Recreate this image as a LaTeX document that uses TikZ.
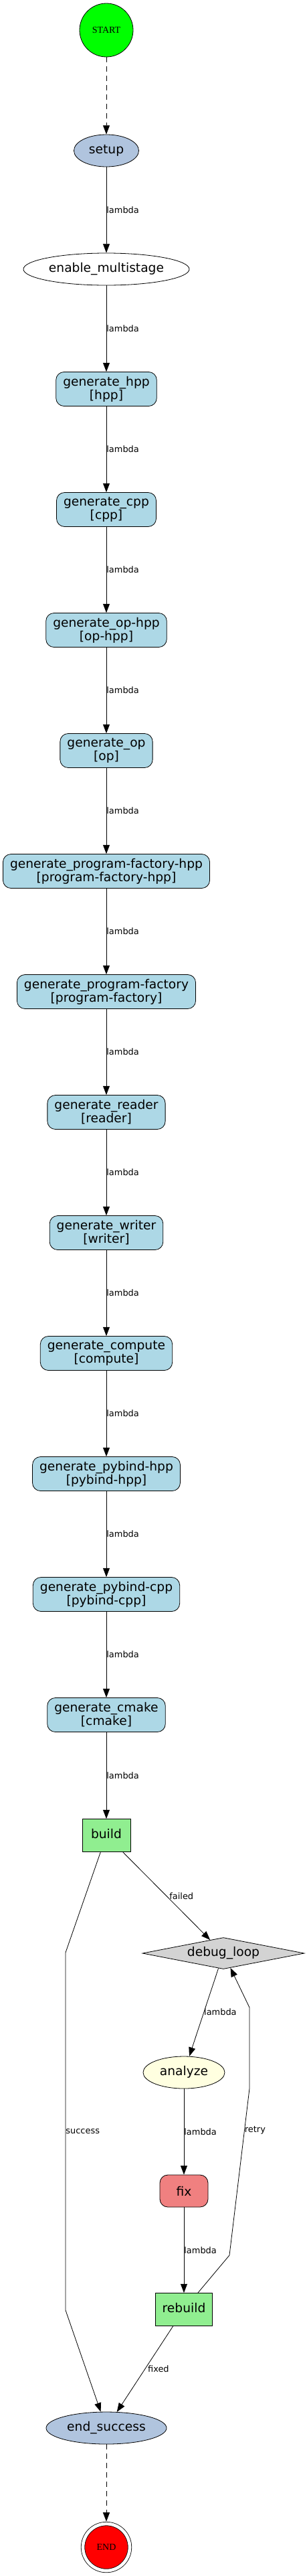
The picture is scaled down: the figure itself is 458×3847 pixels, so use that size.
\documentclass[tikz,border=0pt]{standalone}
\usepackage{fontspec}
\setmainfont{DejaVu Sans}
\newfontfamily\capfont{Liberation Serif}
\usetikzlibrary{arrows.meta,shapes.geometric}

\definecolor{startgreen}{HTML}{00FF00}
\definecolor{steel}{HTML}{B0C4DE}
\definecolor{genblue}{HTML}{ADD8E6}
\definecolor{buildgreen}{HTML}{90EE90}
\definecolor{loopgray}{HTML}{D3D3D3}
\definecolor{anayellow}{HTML}{FFFFE0}
\definecolor{fixred}{HTML}{F08080}

\begin{document}
\begin{tikzpicture}[x=0.75bp, y=-0.75bp, line width=0.6bp,
    >={Triangle[length=10bp,width=7.5bp]},
    every node/.style={font=\fontsize{14bp}{15bp}\selectfont},
    oval/.style={ellipse, draw, inner sep=0pt, minimum height=36bp, text height=10.6bp, text depth=3.4bp},
    genbox/.style={rectangle, rounded corners=9bp, draw, fill=genblue, align=center, minimum width=54bp, minimum height=38.25bp, inner xsep=7.92bp},
    stepbox/.style={rectangle, draw, fill=buildgreen, minimum width=54bp, minimum height=36.75bp, inner xsep=7.92bp, text height=10.6bp, text depth=3.4bp},
    term/.style={circle, draw, font=\capfont\fontsize{10.5bp}{12bp}\selectfont},
    lbl/.style={right, inner sep=0pt, font=\fontsize{9.7bp}{11bp}\selectfont},
    flow/.style={->, dash pattern=on 6bp off 4.5bp}]
    \useasboundingbox (0,0) rectangle (458,3847);
    % Start and setup
    \node[term, fill=startgreen, minimum size=60bp] (start) at (159,45) {START};
    \node[oval, fill=steel, minimum width=72.75bp] (setup) at (159,225) {setup};
    \node[oval, fill=white, minimum width=186bp] (multistage) at (159,402) {enable\_multistage};
    % Generators
    \foreach \n/\lab [count=\i] in {hpp/hpp, cpp/cpp, ophpp/op-hpp, op/op,
        pfhpp/program-factory-hpp, pf/program-factory, reader/reader, writer/writer,
        compute/compute, pyhpp/pybind-hpp, pycpp/pybind-cpp, cmake/cmake}
      \node[genbox] (\n) at (159, 401+180*\i) {generate\_\lab\\{[\lab]}};
    % Build and debug loop
    \node[stepbox] (build) at (159,2741) {build};
    \node[diamond, aspect=5.15, draw, fill=loopgray, inner sep=0pt, minimum width=181.5bp, minimum height=35.25bp] (debugloop) at (334,2917) {debug\_loop};
    \node[oval, fill=anayellow, minimum width=91.5bp] (analyze) at (275,3095) {analyze};
    \node[genbox, fill=fixred, minimum height=36bp] (fix) at (275,3272) {fix};
    \node[stepbox] (rebuild) at (275,3449) {rebuild};
    \node[oval, fill=steel, minimum width=135bp] (endok) at (159,3626) {end\_success};
    \node[term, fill=red, double, double distance=3.5bp, minimum size=52.5bp, outer sep=2.6bp] (stop) at (159,3804) {END};
    % Bends
    \coordinate (s1) at (98,2916);
    \coordinate (s2) at (98,3450);
    \coordinate (r1) at (343,3368);
    \coordinate (r2) at (373,3119);
    \coordinate (r3) at (373,2998);
    % Edges
    \draw[flow] (start) -- (setup);
    \draw[->] (setup) -- node[lbl] {lambda} (multistage);
    \draw[->] (multistage) -- node[lbl] {lambda} (hpp);
    \foreach \a/\b in {hpp/cpp, cpp/ophpp, ophpp/op, op/pfhpp, pfhpp/pf, pf/reader,
        reader/writer, writer/compute, compute/pyhpp, pyhpp/pycpp, pycpp/cmake, cmake/build}
      \draw[->] (\a) -- node[lbl] {lambda} (\b);
    \draw[->] (build) -- (s1) -- node[lbl] {success} (s2) -- (endok);
    \draw[->] (build) -- node[lbl, xshift=3bp] {failed} (debugloop);
    \draw[->] (debugloop) -- node[lbl] {lambda} (analyze);
    \draw[->] (analyze) -- node[lbl] {lambda} (fix);
    \draw[->] (fix) -- node[lbl] {lambda} (rebuild);
    \draw[->] (rebuild) -- (r1) -- node[lbl, pos=0.75] {retry} (r2) -- (r3) -- (debugloop);
    \draw[->] (rebuild) -- node[lbl, xshift=3bp] {fixed} (endok);
    \draw[flow] (endok) -- (stop);
\end{tikzpicture}
\end{document}
